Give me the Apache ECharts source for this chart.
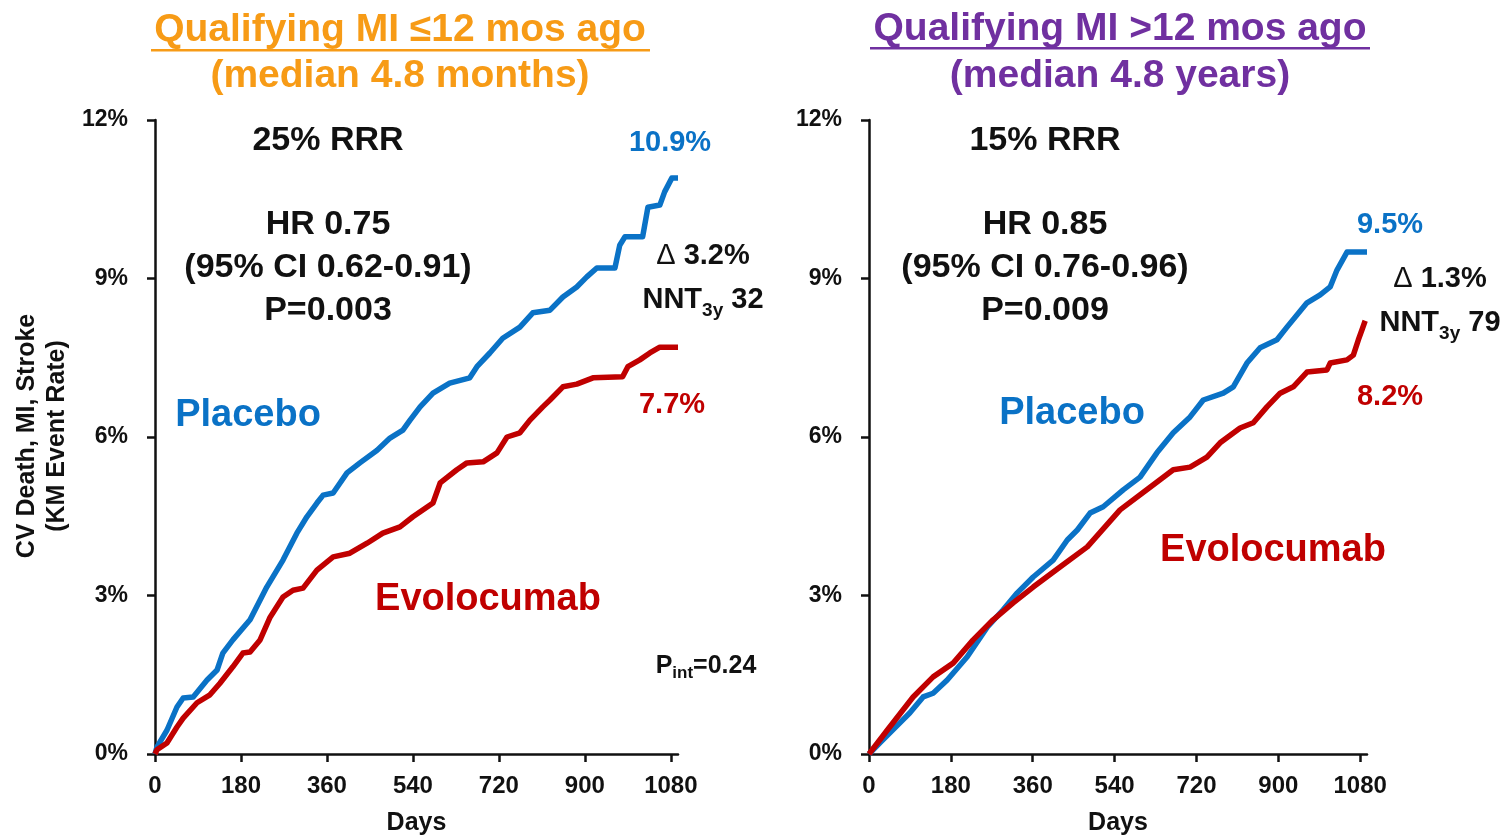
<!DOCTYPE html>
<html>
<head>
<meta charset="utf-8">
<title>CV Death, MI, Stroke by time since qualifying MI</title>
<script src="https://cdn.jsdelivr.net/npm/echarts@6/dist/echarts.min.js"></script>
<style>
  html, body { margin: 0; padding: 0; background: #fff; }
  #chart { width: 1508px; height: 837px; }
</style>
</head>
<body>
<div id="chart"></div>
<script>
// Kaplan-Meier event rates (%) by day of follow-up
const dayTicks = [0, 180, 360, 540, 720, 900, 1080];
const rateTicks = [0, 3, 6, 9, 12];

// Qualifying MI <=12 months ago
const placeboRecent = [
  [0, 0], [4, 0.13], [25, 0.45], [46, 0.89], [59, 1.06], [80, 1.08], [109, 1.40], [130, 1.59],
  [142, 1.91], [163, 2.16], [199, 2.54], [234, 3.16], [268, 3.67], [297, 4.18], [318, 4.49],
  [339, 4.75], [352, 4.90], [373, 4.94], [402, 5.32], [429, 5.51], [465, 5.75], [492, 5.98],
  [519, 6.13], [534, 6.32], [555, 6.57], [582, 6.83], [617, 7.02], [659, 7.12], [674, 7.33],
  [701, 7.59], [728, 7.87], [764, 8.08], [791, 8.35], [827, 8.40], [854, 8.65], [883, 8.84],
  [904, 9.03], [925, 9.20], [963, 9.20], [973, 9.63], [984, 9.79], [1021, 9.79], [1032, 10.35],
  [1057, 10.39], [1067, 10.64], [1082, 10.9], [1095, 10.9]
];
const evolocumabRecent = [
  [0, 0], [4, 0.08], [25, 0.21], [46, 0.51], [59, 0.68], [88, 0.97], [115, 1.12], [136, 1.34],
  [163, 1.65], [184, 1.91], [199, 1.93], [220, 2.16], [241, 2.59], [268, 2.97], [289, 3.10],
  [310, 3.14], [339, 3.48], [373, 3.73], [408, 3.80], [444, 3.99], [477, 4.18], [513, 4.30],
  [540, 4.49], [582, 4.75], [597, 5.13], [632, 5.38], [653, 5.51], [687, 5.53], [716, 5.70],
  [737, 6.00], [764, 6.08], [785, 6.32], [812, 6.57], [827, 6.70], [854, 6.95], [883, 7.00],
  [917, 7.12], [979, 7.14], [990, 7.33], [1015, 7.46], [1036, 7.59], [1057, 7.7], [1095, 7.7]
];

// Qualifying MI >12 months ago
const placeboRemote = [
  [0, 0], [24, 0.21], [46, 0.40], [90, 0.78], [119, 1.08], [141, 1.15], [172, 1.40], [216, 1.84],
  [260, 2.40], [295, 2.73], [326, 3.05], [361, 3.35], [405, 3.67], [436, 4.05], [458, 4.24],
  [486, 4.56], [515, 4.68], [559, 5.00], [596, 5.24], [633, 5.70], [669, 6.08], [706, 6.38],
  [735, 6.70], [779, 6.83], [801, 6.95], [831, 7.40], [860, 7.69], [897, 7.84], [919, 8.08],
  [963, 8.54], [992, 8.69], [1014, 8.84], [1029, 9.16], [1051, 9.5], [1095, 9.5]
];
const evolocumabRemote = [
  [0, 0], [40, 0.45], [97, 1.08], [141, 1.46], [185, 1.72], [229, 2.16], [273, 2.54], [317, 2.86],
  [361, 3.16], [420, 3.54], [480, 3.92], [552, 4.62], [618, 5.05], [669, 5.38], [706, 5.43],
  [743, 5.62], [772, 5.89], [816, 6.17], [845, 6.27], [875, 6.57], [904, 6.83], [933, 6.95],
  [963, 7.23], [1007, 7.27], [1014, 7.40], [1051, 7.46], [1065, 7.55], [1076, 7.84], [1084, 8.03],
  [1091, 8.2]
];

const FONT = '"Liberation Sans", Arial, Helvetica, sans-serif';
const BLUE = '#0A72C6';
const RED = '#C00000';
const ORANGE = '#F79B16';
const PURPLE = '#7030A0';

const lastRate = s => s[s.length - 1][1];
const pct = v => v.toFixed(1) + '%';

function xAxisFor(gridIndex) {
  return {
    type: 'value', gridIndex, min: 0, max: 1095,
    name: 'Days', nameLocation: 'middle', nameGap: 57,
    nameTextStyle: { fontFamily: FONT, fontWeight: 'bold', fontSize: 25, color: '#111' },
    axisLine: { onZero: false, lineStyle: { color: '#111', width: 2.5 } },
    axisTick: { show: true, customValues: dayTicks, length: 8, lineStyle: { color: '#111', width: 2.5 } },
    axisLabel: {
      customValues: dayTicks, margin: 20, formatter: v => String(v),
      fontFamily: FONT, fontWeight: 'bold', fontSize: 24, color: '#111'
    },
    splitLine: { show: false }
  };
}
function yAxisFor(gridIndex) {
  return {
    type: 'value', gridIndex, min: rateTicks[0], max: rateTicks[rateTicks.length - 1], interval: 3,
    axisLine: { show: true, lineStyle: { color: '#111', width: 2.5 } },
    axisTick: { show: true, length: 8, lineStyle: { color: '#111', width: 2.5 } },
    axisLabel: { margin: 27, formatter: '{value}%', fontFamily: FONT, fontWeight: 'bold', fontSize: 23, color: '#111' },
    splitLine: { show: false }
  };
}
function curve(name, data, color, idx) {
  return {
    type: 'line', name, data, xAxisIndex: idx, yAxisIndex: idx,
    symbol: 'none', smooth: false,
    lineStyle: { color, width: 5.5, join: 'round', cap: 'butt' },
    itemStyle: { color }
  };
}
function label(text, x, y, size, color, extra) {
  return Object.assign({
    type: 'text', x, y, silent: true,
    style: {
      text, x: 0, y: 0, fill: color, fontFamily: FONT, fontWeight: 'bold', fontSize: size,
      align: 'center', verticalAlign: 'middle'
    }
  }, extra || {});
}
function deltaLabel(text, x, y) {
  return {
    type: 'text', x, y, silent: true,
    style: {
      text: '{d|\u0394}{m| ' + text + '}', align: 'center', verticalAlign: 'middle',
      rich: {
        d: { fontFamily: FONT, fontWeight: 'normal', fontSize: 29, fill: '#111', lineHeight: 36 },
        m: { fontFamily: FONT, fontWeight: 'bold', fontSize: 29, fill: '#111', lineHeight: 36 }
      }
    }
  };
}
function nntLabel(n, x, y) {
  return {
    type: 'text', x, y, silent: true,
    style: {
      text: '{m|NNT}{s|3y}{m| ' + n + '}',
      align: 'center', verticalAlign: 'middle',
      rich: {
        m: { fontFamily: FONT, fontWeight: 'bold', fontSize: 29, fill: '#111', lineHeight: 40 },
        s: { fontFamily: FONT, fontWeight: 'bold', fontSize: 19, fill: '#111', lineHeight: 19, verticalAlign: 'bottom' }
      }
    }
  };
}
function statsBlock(lines, x, y) {
  return {
    type: 'text', x, y, silent: true,
    style: {
      text: lines.join('\n'), fill: '#111', fontFamily: FONT, fontWeight: 'bold', fontSize: 34,
      lineHeight: 43, align: 'center', verticalAlign: 'middle'
    }
  };
}

const chart = echarts.init(document.getElementById('chart'), null, { renderer: 'canvas' });

chart.setOption({
  animation: false,
  backgroundColor: '#ffffff',
  grid: [
    { left: 155, top: 120, width: 523, height: 634, outerBoundsMode: 'none', containLabel: false },
    { left: 869, top: 120, width: 498, height: 634, outerBoundsMode: 'none', containLabel: false }
  ],
  xAxis: [xAxisFor(0), xAxisFor(1)],
  yAxis: [yAxisFor(0), yAxisFor(1)],
  series: [
    curve('Placebo', placeboRecent, BLUE, 0),
    curve('Evolocumab', evolocumabRecent, RED, 0),
    curve('Placebo', placeboRemote, BLUE, 1),
    curve('Evolocumab', evolocumabRemote, RED, 1)
  ],
  graphic: [
    // panel headings
    label('Qualifying MI \u226412 mos ago', 400, 30, 39, ORANGE),
    { type: 'rect', silent: true, shape: { x: 151, y: 49, width: 499, height: 2.5 }, style: { fill: ORANGE } },
    label('(median 4.8 months)', 400, 76, 39, ORANGE),
    label('Qualifying MI >12 mos ago', 1120, 29, 39, PURPLE),
    { type: 'rect', silent: true, shape: { x: 870, y: 47, width: 500, height: 2.5 }, style: { fill: PURPLE } },
    label('(median 4.8 years)', 1120, 76, 39, PURPLE),

    // shared y-axis title
    {
      type: 'text', x: 42, y: 436, rotation: Math.PI / 2, silent: true,
      style: {
        text: 'CV Death, MI, Stroke\n(KM Event Rate)', fill: '#111', fontFamily: FONT,
        fontWeight: 'bold', fontSize: 25, lineHeight: 30, align: 'center', verticalAlign: 'middle'
      }
    },

    // left panel annotations
    label('25% RRR', 328, 141, 34, '#111'),
    statsBlock(['HR 0.75', '(95% CI 0.62-0.91)', 'P=0.003'], 328, 268),
    label('Placebo', 248, 416, 38, BLUE),
    label('Evolocumab', 488, 600, 38, RED),
    label(pct(lastRate(placeboRecent)), 670, 143, 29, BLUE),
    label(pct(lastRate(evolocumabRecent)), 672, 405, 29, RED),
    deltaLabel('3.2%', 703, 256),
    nntLabel(32, 703, 300),
    {
      type: 'text', x: 706, y: 666, silent: true,
      style: {
        text: '{m|P}{s|int}{m|=0.24}', align: 'center', verticalAlign: 'middle',
        rich: {
          m: { fontFamily: FONT, fontWeight: 'bold', fontSize: 25, fill: '#111', lineHeight: 32 },
          s: { fontFamily: FONT, fontWeight: 'bold', fontSize: 17, fill: '#111', lineHeight: 17, verticalAlign: 'bottom' }
        }
      }
    },

    // right panel annotations
    label('15% RRR', 1045, 141, 34, '#111'),
    statsBlock(['HR 0.85', '(95% CI 0.76-0.96)', 'P=0.009'], 1045, 268),
    label('Placebo', 1072, 414, 38, BLUE),
    label('Evolocumab', 1273, 551, 38, RED),
    label(pct(lastRate(placeboRemote)), 1390, 225, 29, BLUE),
    label(pct(lastRate(evolocumabRemote)), 1390, 397, 29, RED),
    deltaLabel('1.3%', 1440, 279),
    nntLabel(79, 1440, 323)
  ]
});
</script>
</body>
</html>
